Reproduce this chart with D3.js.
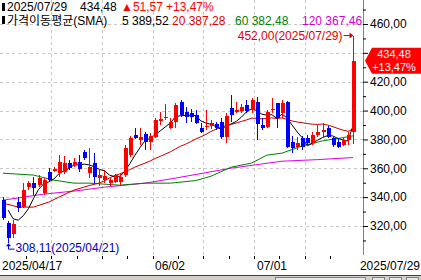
<!DOCTYPE html>
<html>
<head>
<meta charset="utf-8">
<script src="https://cdn.jsdelivr.net/npm/d3@7"></script>
<style>
  body { margin: 0; background: #fff; }
  svg { display: block; }
  text { font-family: "Liberation Sans", "Noto Sans CJK KR", sans-serif; font-size: 12px; }
</style>
</head>
<body>
<div id="app"></div>
<script>
// trading days shown
const dates = [
  "04/17", "04/21", "04/22", "04/23", "04/24", "04/25", "04/28", "04/29", "04/30",
  "05/01", "05/02", "05/05", "05/06", "05/07", "05/08", "05/09", "05/12", "05/13", "05/14", "05/15", "05/16",
  "05/19", "05/20", "05/21", "05/22", "05/23", "05/27", "05/28", "05/29", "05/30",
  "06/02", "06/03", "06/04", "06/05", "06/06", "06/09", "06/10", "06/11", "06/12", "06/13",
  "06/16", "06/17", "06/18", "06/20", "06/23", "06/24", "06/25", "06/26", "06/27", "06/30",
  "07/01", "07/02", "07/03", "07/07", "07/08", "07/09", "07/10", "07/11",
  "07/14", "07/15", "07/16", "07/17", "07/18", "07/21", "07/22", "07/23", "07/24", "07/25", "07/28", "07/29"
];

const opens = [
  337.9, 322.0, 314.4, 336.5, 333.1, 346.9, 349.7, 348.3, 342.8, 357.3,
  358.0, 356.6, 357.3, 363.6, 362.2, 364.3, 371.2, 356.6, 363.6, 353.2,
  351.8, 349.7, 350.4, 350.4, 355.2, 369.1, 383.0, 379.5, 383.7, 378.1,
  381.6, 392.7, 394.8, 387.9, 392.0, 405.8, 398.9, 398.2, 396.8, 387.9,
  388.5, 389.2, 390.6, 392.0, 381.6, 401.7, 398.9, 399.6, 403.7, 400.3,
  405.8, 389.9, 388.5, 400.3, 405.2, 398.2, 405.8, 378.1, 374.6, 380.9,
  380.9, 377.4, 383.0, 385.1, 387.9, 380.9, 378.1, 376.0, 379.5, 384.9
];
const highs = [
  340.0, 323.4, 324.1, 340.0, 349.7, 351.1, 353.9, 355.2, 353.2, 360.1,
  360.8, 369.1, 368.4, 365.7, 367.0, 369.1, 372.6, 374.0, 370.5, 358.7,
  358.7, 353.9, 356.0, 356.0, 376.0, 382.3, 387.9, 387.9, 385.1, 384.4,
  394.8, 398.9, 404.4, 394.8, 405.2, 407.2, 402.4, 401.0, 400.3, 391.3,
  400.3, 393.4, 392.0, 394.8, 398.2, 410.7, 405.8, 404.4, 407.2, 408.6,
  409.3, 394.8, 400.3, 408.6, 405.2, 407.2, 406.5, 382.3, 381.6, 382.3,
  383.0, 385.1, 389.9, 391.3, 389.2, 381.6, 380.9, 380.9, 385.1, 452.0
];
const lows = [
  324.1, 308.11, 311.6, 329.6, 332.4, 344.9, 341.4, 346.9, 341.4, 350.4,
  357.3, 353.9, 355.9, 358.7, 360.8, 357.3, 365.7, 353.2, 349.7, 347.6,
  349.7, 347.6, 349.7, 348.3, 353.9, 367.7, 380.2, 376.0, 372.6, 372.6,
  380.9, 389.9, 393.4, 387.2, 387.9, 395.5, 391.3, 392.0, 390.6, 384.4,
  386.4, 387.2, 386.4, 380.2, 377.4, 392.0, 398.2, 398.2, 398.2, 398.2,
  379.5, 386.4, 387.9, 398.2, 387.9, 394.8, 374.0, 370.5, 372.6, 372.6,
  376.0, 376.0, 381.6, 380.9, 380.9, 374.6, 374.0, 375.3, 376.0, 377.0
];
const closes = [
  325.5, 311.6, 321.3, 332.4, 344.9, 349.7, 346.3, 353.2, 351.8, 351.8,
  359.4, 364.3, 363.6, 360.1, 364.3, 359.4, 367.0, 360.8, 353.9, 355.2,
  354.6, 351.8, 355.2, 353.9, 374.0, 380.9, 380.9, 381.6, 378.1, 382.3,
  393.4, 394.1, 395.5, 392.0, 403.7, 396.8, 395.5, 395.5, 391.3, 385.1,
  389.2, 391.3, 387.9, 381.6, 396.1, 396.8, 400.3, 402.4, 399.6, 407.2,
  390.6, 387.9, 398.9, 401.0, 394.8, 405.2, 374.6, 374.0, 377.4, 374.6,
  377.4, 383.0, 385.1, 386.4, 381.6, 376.0, 374.6, 379.5, 382.91, 434.48
];

const sma5Lead = [[1, 331.0], [2, 325.0], [3, 324.0]];
const sma20Lead = [[0, 335.9], [3, 333.1], [6, 333.1], [9, 336.5], [11, 340.0], [14, 344.9], [17, 348.0]];
const sma60 = [[0, 356.6], [6, 355.3], [10, 351.8], [14, 349.7], [17, 349.7], [23, 348.3], [28, 349.7],
  [33, 349.7], [38, 351.5], [41, 354.5], [45, 360.8], [49, 363.6], [52, 369.1], [55, 370.5],
  [59, 375.5], [63, 379.0], [67, 381.2], [69, 382.48]];
const sma120 = [[0, 337.9], [4, 340.0], [8, 342.1], [14, 344.2], [20, 346.9], [28, 349.7], [34, 353.2],
  [45, 360.1], [55, 364.9], [62, 366.0], [69, 367.46]];

// legend figures as printed in the header
const maPeriods = [5, 20, 60, 120];
const maLast = [389.52, 387.28, 382.48, 367.46];
const lastChange = 51.57;
const lastPct = 13.47;

const priceTicks = [320, 340, 360, 380, 400, 420, 440, 460];
const minorTicks = [310, 330, 350, 370, 390, 410, 430, 450, 470];
const dateLabels = [
  { i: 0, text: "2025/04/17" },
  { i: 30, text: "06/02" },
  { i: 50, text: "07/01" }
];

const W = 421, H = 280;
const axisX = 363, plotBottom = 255;
const UP = "#ff0000", DOWN = "#0000ff";
const maColors = ["#000000", "#c00000", "#008000", "#e000e0"];
const legendColors = ["#000000", "#e00000", "#008000", "#d000d0"];

const svg = d3.select("#app").append("svg")
  .attr("width", W).attr("height", H)
  .style("background", "#fff");

const x = d3.scalePoint().domain(d3.range(dates.length)).range([3, 353]);
const y = d3.scaleLinear().domain([320, 460]).range([226, 24]);
const fmt = v => d3.format(".2f")(v).replace(".", ",");

svg.append("clipPath").attr("id", "plot")
  .append("rect").attr("x", 0).attr("y", 0).attr("width", axisX).attr("height", plotBottom);

// grid
const grid = svg.append("g").attr("stroke", "#c8c8c8").attr("stroke-dasharray", "3,3")
  .attr("shape-rendering", "crispEdges");
grid.selectAll("line.h").data(priceTicks).join("line")
  .attr("x1", 0).attr("x2", axisX)
  .attr("y1", d => Math.round(y(d)) + 0.5).attr("y2", d => Math.round(y(d)) + 0.5);
grid.selectAll("line.v").data([10, 20, 30, 40, 50, 60]).join("line")
  .attr("x1", d => Math.round(x(d) - 2.5) + 0.5).attr("x2", d => Math.round(x(d) - 2.5) + 0.5)
  .attr("y1", 0).attr("y2", plotBottom);

const plot = svg.append("g").attr("clip-path", "url(#plot)");

// moving averages
function sma(n, lead) {
  const pts = lead.slice();
  for (let i = n - 1; i < closes.length; i++) {
    pts.push([i, d3.mean(closes.slice(i - n + 1, i + 1))]);
  }
  return pts;
}
const line = d3.line().x(d => x(d[0])).y(d => y(d[1]));
const maSeries = [
  { data: sma120, color: maColors[3] },
  { data: sma60, color: maColors[2] },
  { data: sma(20, sma20Lead), color: maColors[1] },
  { data: sma(5, sma5Lead), color: maColors[0] }
];
plot.selectAll("path.ma").data(maSeries).join("path")
  .attr("fill", "none")
  .attr("stroke", d => d.color)
  .attr("stroke-width", 1)
  .attr("d", d => line(d.data));

// candles
const candles = plot.append("g").attr("shape-rendering", "crispEdges");
const idx = d3.range(dates.length);
candles.selectAll("line").data(idx).join("line")
  .attr("x1", i => Math.round(x(i)) + 0.5).attr("x2", i => Math.round(x(i)) + 0.5)
  .attr("y1", i => y(highs[i])).attr("y2", i => y(lows[i]))
  .attr("stroke", i => closes[i] >= opens[i] ? UP : DOWN);
candles.selectAll("rect").data(idx).join("rect")
  .attr("x", i => Math.round(x(i)) - 1.5)
  .attr("width", 4)
  .attr("y", i => y(Math.max(opens[i], closes[i])))
  .attr("height", i => Math.max(1, Math.abs(y(opens[i]) - y(closes[i]))))
  .attr("fill", i => closes[i] >= opens[i] ? UP : DOWN);

// high / low annotations
const hiI = d3.maxIndex(highs), loI = d3.minIndex(lows);
const hx = Math.round(x(hiI)) + 0.5, hy = y(highs[hiI]);
svg.append("line").attr("x1", hx - 10).attr("x2", hx - 3).attr("y1", hy).attr("y2", hy)
  .attr("stroke", "#e00000");
svg.append("path").attr("d", `M${hx},${hy} l-4,-3 v6 z`).attr("fill", "#e00000");
svg.append("text").attr("x", hx - 11).attr("y", hy + 4.5).attr("text-anchor", "end")
  .attr("fill", "#e00000").text(`${fmt(highs[hiI])}(2025/${dates[hiI]})`);

const lx = Math.round(x(loI)) + 0.5, ly = y(lows[loI]);
svg.append("path").attr("d", `M${lx},${ly + 2} V${ly + 6} H${lx + 6}`)
  .attr("fill", "none").attr("stroke", "#0000c0");
svg.append("path").attr("d", `M${lx},${ly} l-2.5,3 h5 z`).attr("fill", "#0000c0");
svg.append("text").attr("x", lx + 7).attr("y", ly + 9)
  .attr("fill", "#0000c0").text(`${fmt(lows[loI])}(2025/${dates[loI]})`);

// right axis (the 440 label sits under the price tag, so it is left blank)
const last = closes.length - 1;
const ly0 = y(closes[last]);
svg.append("line").attr("x1", axisX + 0.5).attr("x2", axisX + 0.5).attr("y1", 0).attr("y2", plotBottom)
  .attr("stroke", "#808080");
const yAxis = svg.append("g").attr("transform", `translate(${axisX},0)`)
  .call(d3.axisRight(y).tickValues(priceTicks)
    .tickFormat(d => Math.abs(y(d) - ly0) < 14 ? "" : fmt(d))
    .tickSize(5).tickPadding(2));
yAxis.select(".domain").remove();
yAxis.selectAll("text").attr("font-size", 12).attr("font-family", null).attr("fill", "#000");
const yMinor = svg.append("g").attr("transform", `translate(${axisX},0)`)
  .call(d3.axisRight(y).tickValues(minorTicks).tickFormat("").tickSize(3));
yMinor.select(".domain").remove();

// last price tag
svg.append("path")
  .attr("d", `M${axisX + 2},${ly0} L${axisX + 9},${ly0 - 13} H${W} V${ly0 + 13} H${axisX + 9} Z`)
  .attr("fill", "#ff0000");
svg.append("text").attr("x", 394).attr("y", ly0 - 2.5).attr("text-anchor", "middle")
  .attr("fill", "#fff").style("font-size", "11px").text(fmt(closes[last]));
svg.append("text").attr("x", 394).attr("y", ly0 + 10).attr("text-anchor", "middle")
  .attr("fill", "#fff").style("font-size", "11px").text("+" + fmt(lastPct) + "%");

// date strip
svg.append("g").attr("stroke", "#000").attr("shape-rendering", "crispEdges")
  .selectAll("line").data(d3.range(5, dates.length, 5)).join("line")
  .attr("x1", d => Math.round(x(d) - 2.5) + 0.5).attr("x2", d => Math.round(x(d) - 2.5) + 0.5)
  .attr("y1", plotBottom + 1).attr("y2", plotBottom + 4);
svg.selectAll("text.date").data(dateLabels).join("text")
  .attr("class", "date")
  .attr("x", d => d.i === 0 ? 2 : Math.round(x(d.i)))
  .attr("y", 270)
  .attr("fill", "#000")
  .text(d => d.text);
svg.append("text").attr("x", W - 1).attr("y", 270).attr("text-anchor", "end")
  .attr("fill", "#000").text("2025/" + dates[last]);

// scroll strip at the bottom
svg.append("rect").attr("x", 0).attr("y", 275).attr("width", W).attr("height", 5).attr("fill", "#d4d0c8");
svg.append("line").attr("x1", 0).attr("x2", W).attr("y1", 275.5).attr("y2", 275.5).attr("stroke", "#404040");
svg.append("g").attr("fill", "#e8e8e8").attr("stroke", "#808080")
  .selectAll("rect").data([[275, 90], [372, 12], [389, 12], [406, 12]]).join("rect")
  .attr("x", d => d[0] + 0.5).attr("y", 277.5).attr("width", d => d[1]).attr("height", 4);

// header legend
const head = svg.append("g");
head.append("rect").attr("x", 2).attr("y", 3).attr("width", 3).attr("height", 8).attr("fill", "#000");
head.append("rect").attr("x", 2).attr("y", 16).attr("width", 3).attr("height", 8).attr("fill", "#000");
const row1 = [
  { x: 7, text: "2025/" + dates[last], color: "#000" },
  { x: 80, text: fmt(closes[last]), color: "#000" },
  { x: 121, text: "\u25B2" + fmt(lastChange), color: "#ff0000" },
  { x: 166, text: "+" + fmt(lastPct) + "%", color: "#ff0000" }
];
const maX = [122, 172, 235, 302];
const row2 = [{ x: 7, text: "가격이동평균(SMA)", color: "#000" }].concat(
  maPeriods.map((p, k) => ({ x: maX[k], text: p + " " + fmt(maLast[k]), color: legendColors[k] }))
);
head.selectAll("text.r1").data(row1).join("text")
  .attr("x", d => d.x).attr("y", 11).attr("fill", d => d.color).text(d => d.text);
head.selectAll("text.r2").data(row2).join("text")
  .attr("x", d => d.x).attr("y", 25).attr("fill", d => d.color).text(d => d.text);
</script>
</body>
</html>
